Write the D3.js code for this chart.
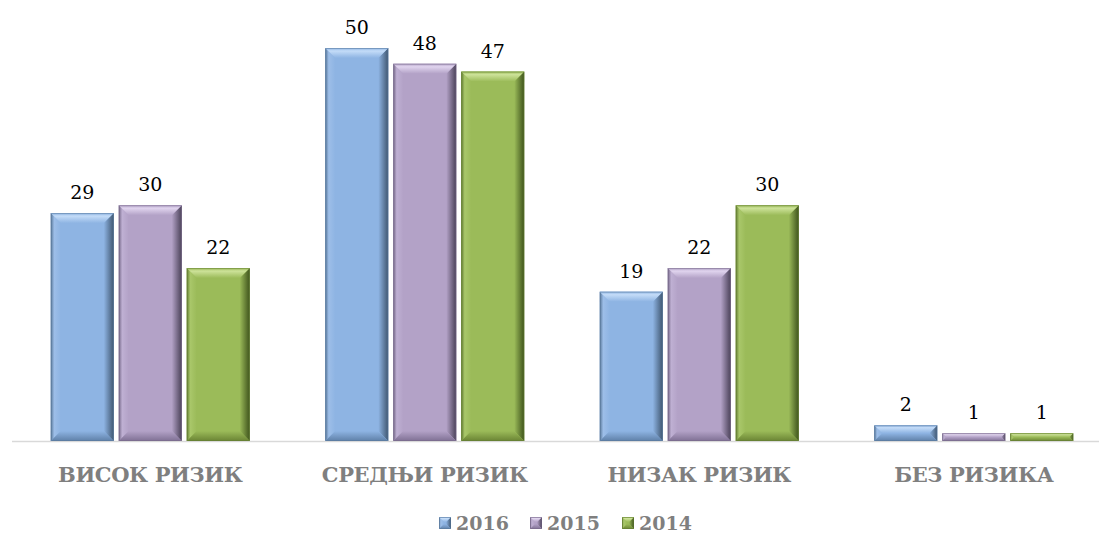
<!DOCTYPE html>
<html>
<head>
<meta charset="utf-8">
<script src="https://cdn.jsdelivr.net/npm/d3@7"></script>
<style>
  html, body { margin: 0; padding: 0; background: #ffffff; }
  svg { display: block; }
  text { font-family: "DejaVu Serif", "Liberation Serif", "Times New Roman", serif; }
</style>
</head>
<body>
<svg id="chart" width="1099" height="534"></svg>
<script>
// Risk category counts by year
const categories = ["ВИСОК РИЗИК", "СРЕДЊИ РИЗИК", "НИЗАК РИЗИК", "БЕЗ РИЗИКА"];
const years = ["2016", "2015", "2014"];
const values2016 = [29, 50, 19, 2];
const values2015 = [30, 48, 22, 1];
const values2014 = [22, 47, 30, 1];
const seriesValues = { "2016": values2016, "2015": values2015, "2014": values2014 };

// Bevel palette per series
const palette = {
  "2016": { face: "#8EB4E3", top: "#C4DCF8", left: "#9DBEE8", right: "#3F5670", bottom: "#5F80A8", edge: "#587799" },
  "2015": { face: "#B3A2C7", top: "#E0D4EE", left: "#BFB0D3", right: "#4A4158", bottom: "#7F7094", edge: "#756888" },
  "2014": { face: "#9BBB59", top: "#CDE299", left: "#A9C76A", right: "#3E531C", bottom: "#6A8434", edge: "#627C31" }
};

const svg = d3.select("#chart");
const baseY = 441;

const x0 = d3.scaleBand().domain(categories).range([13, 1111]).paddingInner(0.257).paddingOuter(0.1285);
const x1 = d3.scaleBand().domain(years).range([0, x0.bandwidth()]).paddingInner(0.0735).paddingOuter(0.0368);
const y = d3.scaleLinear().domain([0, 50]).range([baseY, 48]);

// Gradients for the shaded bevel sides
const defs = svg.append("defs");
years.forEach(yr => {
  const p = palette[yr];
  const gr = defs.append("linearGradient").attr("id", "gr-" + yr).attr("x1", 0).attr("x2", 1).attr("y1", 0).attr("y2", 0);
  gr.append("stop").attr("offset", "0%").attr("stop-color", p.face);
  gr.append("stop").attr("offset", "100%").attr("stop-color", p.right);
  const gt = defs.append("linearGradient").attr("id", "gt-" + yr).attr("x1", 0).attr("x2", 0).attr("y1", 0).attr("y2", 1);
  gt.append("stop").attr("offset", "0%").attr("stop-color", p.face);
  gt.append("stop").attr("offset", "30%").attr("stop-color", p.top);
  gt.append("stop").attr("offset", "100%").attr("stop-color", p.face);
  const gb = defs.append("linearGradient").attr("id", "gb-" + yr).attr("x1", 0).attr("x2", 0).attr("y1", 0).attr("y2", 1);
  gb.append("stop").attr("offset", "0%").attr("stop-color", p.face);
  gb.append("stop").attr("offset", "100%").attr("stop-color", p.bottom);
  const gl = defs.append("linearGradient").attr("id", "gl-" + yr).attr("x1", 0).attr("x2", 1).attr("y1", 0).attr("y2", 0);
  gl.append("stop").attr("offset", "0%").attr("stop-color", p.edge);
  gl.append("stop").attr("offset", "35%").attr("stop-color", p.left);
  gl.append("stop").attr("offset", "100%").attr("stop-color", p.face);
});

// Baseline
svg.append("line")
  .attr("x1", 12).attr("x2", 1099)
  .attr("y1", baseY + 0.5).attr("y2", baseY + 0.5)
  .attr("stroke", "#d9d9d9").attr("stroke-width", 1.5);

// Draws one beveled rectangle into group g
function bevelRect(g, x, yTop, w, h, yr, maxB) {
  const b = Math.min(maxB, h / 2, w / 2);
  const x2 = x + w, y2 = yTop + h;
  const poly = pts => pts.map(p => p.join(",")).join(" ");
  g.append("rect").attr("x", x).attr("y", yTop).attr("width", w).attr("height", h)
    .attr("fill", palette[yr].face);
  g.append("polygon").attr("points", poly([[x, yTop], [x + b, yTop + b], [x + b, y2 - b], [x, y2]]))
    .attr("fill", `url(#gl-${yr})`);
  g.append("polygon").attr("points", poly([[x2, yTop], [x2 - b, yTop + b], [x2 - b, y2 - b], [x2, y2]]))
    .attr("fill", `url(#gr-${yr})`);
  g.append("polygon").attr("points", poly([[x, yTop], [x2, yTop], [x2 - b, yTop + b], [x + b, yTop + b]]))
    .attr("fill", `url(#gt-${yr})`);
  g.append("polygon").attr("points", poly([[x, y2], [x2, y2], [x2 - b, y2 - b], [x + b, y2 - b]]))
    .attr("fill", `url(#gb-${yr})`);
  g.append("rect").attr("x", x + 0.5).attr("y", yTop + 0.5).attr("width", Math.max(0, w - 1)).attr("height", Math.max(0, h - 1))
    .attr("fill", "none").attr("stroke", palette[yr].edge).attr("stroke-opacity", 0.5).attr("stroke-width", 1);
}

// Bars and value labels
categories.forEach((cat, i) => {
  const g = svg.append("g").attr("transform", `translate(${x0(cat)},0)`);
  years.forEach(yr => {
    const v = seriesValues[yr][i];
    const bx = x1(yr);
    const top = y(v);
    bevelRect(g, bx, top, x1.bandwidth(), baseY - top, yr, 10);
    g.append("text")
      .attr("x", bx + x1.bandwidth() / 2)
      .attr("y", top - 14)
      .attr("text-anchor", "middle")
      .attr("font-size", 19)
      .attr("fill", "#000000")
      .text(v);
  });
});

// Category axis labels
svg.append("g").selectAll("text").data(categories).join("text")
  .attr("x", d => x0(d) + x0.bandwidth() / 2)
  .attr("y", 482)
  .attr("text-anchor", "middle")
  .attr("font-weight", "bold")
  .attr("font-size", 21)
  .attr("letter-spacing", -0.4)
  .attr("fill", "#7f7f7f")
  .text(d => d);

// Legend
const legendX = d3.scaleOrdinal().domain(years).range([439, 530, 622]);
const legend = svg.append("g");
years.forEach(yr => {
  const lx = legendX(yr);
  const lg = legend.append("g");
  bevelRect(lg, lx, 517, 12, 12, yr, 5);
  lg.append("text")
    .attr("x", lx + 17)
    .attr("y", 530)
    .attr("font-weight", "bold")
    .attr("font-size", 19)
    .attr("fill", "#7f7f7f")
    .text(yr);
});
</script>
</body>
</html>
